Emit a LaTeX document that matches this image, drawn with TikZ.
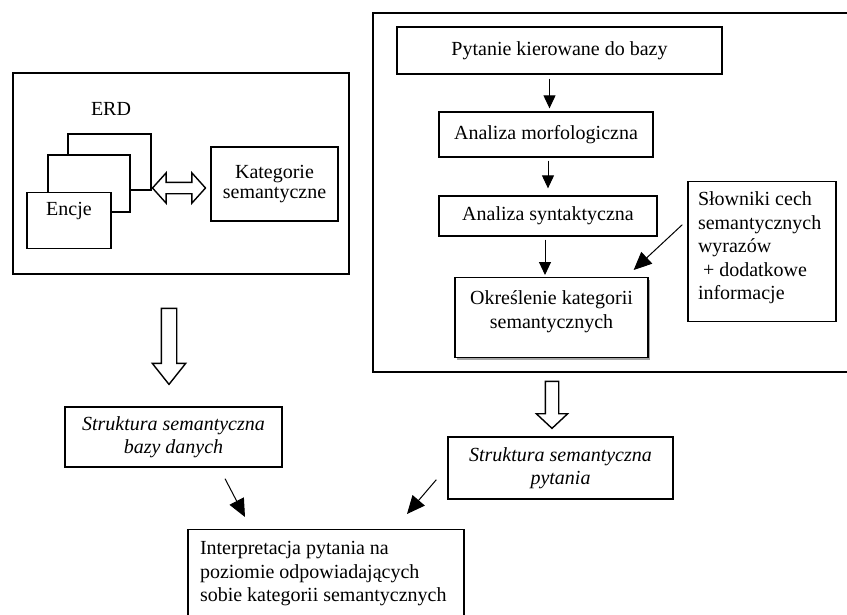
\documentclass[tikz,border=0pt]{standalone}
\usepackage{fontspec}
\setmainfont{Liberation Serif}
\usetikzlibrary{arrows.meta}
\usetikzlibrary{shapes.arrows}
\usetikzlibrary{shadows}
\usetikzlibrary{calc}

\begin{document}
\begin{tikzpicture}[x=1pt, y=-1pt,
    font=\fontsize{20}{23.5}\selectfont,
    box/.style={draw, line width=1.3pt, inner sep=0pt, fill=white},
    slanted/.style={font=\fontsize{20}{23.5}\selectfont\itshape, align=center},
    flow/.style={line width=1pt, -{Triangle[length=13pt, width=12pt]}},
    bigflow/.style={line width=1pt, -{Triangle[length=18pt, width=16pt]}},
    hollow/.style={draw, line width=1.4pt, fill=white, single arrow, shape border rotate=270,
                   anchor=tail, single arrow head indent=0pt}]
            \useasboundingbox (0,0) rectangle (847,614);
            \clip             (0,0) rectangle (847,614);
            \node[box, minimum width=336pt, minimum height=201pt]                 (erdframe) at (181,173.5) {};
            \node                                                                  (erd)      at (111,109)   {ERD};
            \node[box, minimum width=83pt,  minimum height=56pt]                  (ent3)     at (109.5,162) {};
            \node[box, minimum width=82pt,  minimum height=57pt]                  (ent2)     at (89,183.5)  {};
            \node[box, anchor=north]                                               (ent1)     at (69,192)
                 {\parbox[t][56pt][t]{84pt}{\centering\vspace{10pt}Encje}};
            \node[box, align=center, minimum width=127pt, minimum height=74pt]    (kat)      at (274.5,184) {Kategorie\\[-3pt]semantyczne};
            \node[draw, line width=1.4pt, double arrow, inner sep=5pt, minimum height=53pt,
                  double arrow head extend=9.5pt, double arrow tip angle=96,
                  double arrow head indent=0pt]                                    (link)     at (179,188) {};

            \node[box, minimum width=487pt, minimum height=359pt]                 (qframe)   at (616.5,192.5) {};
            \node[box, minimum width=325pt, minimum height=47pt]                  (pytanie)  at (559.5,50.5)  {Pytanie kierowane do bazy};
            \node[box, minimum width=214pt, minimum height=45pt]                  (morf)     at (546,134.5)   {Analiza morfologiczna};
            \node[box, minimum width=218pt, minimum height=40pt]                  (synt)     at (548,216)     {Analiza syntaktyczna};
            \node[box, anchor=north, drop shadow={shadow xshift=2pt, shadow yshift=-2pt, fill=gray!70, opacity=1}]
                                                                                   (okr)      at (551.5,277)
                 {\parbox[t][80pt][t]{193pt}{\centering\vspace{13pt}Określenie kategorii\\semantycznych}};
            \node[box, anchor=north, inner xsep=10pt]                              (slowniki) at (762,181)
                 {\parbox[t][140pt][t]{128pt}{\raggedright\vspace{10pt}Słowniki cech\\semantycznych\\wyrazów\\\hspace*{5pt}+ dodatkowe\\informacje}};

            \node[box, slanted, minimum width=217pt, minimum height=60pt]         (dbstruct) at (173.5,437) {Struktura semantyczna\\bazy danych};
            \node[box, slanted, minimum width=225pt, minimum height=62pt]         (qstruct)  at (560.5,468) {Struktura semantyczna\\pytania};
            \node[box, anchor=north, inner xsep=12pt]                              (interp)   at (326,529)
                 {\parbox[t][110pt][t]{252pt}{\raggedright\vspace{12pt}Interpretacja pytania na\\poziomie odpowiadających\\sobie kategorii semantycznych}};

            \node[hollow, inner sep=7pt, minimum height=76pt, single arrow head extend=9pt, single arrow tip angle=77]
                 (down1) at ([shift={(-12,33)}]erdframe.south) {};
            \node[hollow, inner sep=6pt, minimum height=47pt, single arrow head extend=9pt, single arrow tip angle=94]
                 (down2) at ([shift={(-64.5,8)}]qframe.south) {};

            \coordinate (a1) at ([shift={(-10,0)}]pytanie.south);
            \coordinate (a3) at ([shift={(-3,0)}]synt.south);
            \draw[flow, shorten <=4pt, shorten >=3pt] (a1) -- (a1 |- morf.north);
            \draw[flow, shorten <=3pt, shorten >=7pt] (morf.south -| synt.north) -- (synt.north);
            \draw[flow, shorten <=3pt, shorten >=2pt] (a3) -- (a3 |- okr.north);
            \draw[bigflow] ([shift={(-5,-27)}]slowniki.west) -- ([shift={(-15,-7)}]okr.north east);
            \draw[bigflow] ([shift={(51.5,11)}]dbstruct.south) -- ([shift={(-81,-12)}]interp.north);
            \draw[bigflow] ([shift={(-11,-20)}]qstruct.south west) -- ([shift={(81,-15)}]interp.north);
\end{tikzpicture}
\end{document}
